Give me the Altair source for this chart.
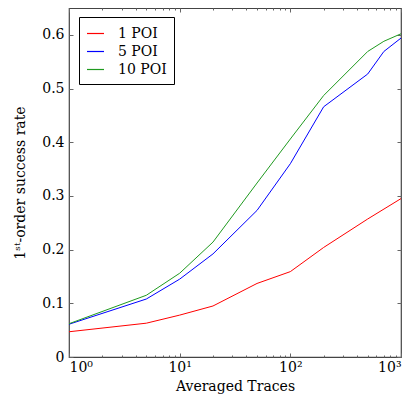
import altair as alt
import pandas as pd

series_names = ["\u20071 POI", "\u20075 POI", "10 POI"]
colors = ["#ff0000", "#0000ff", "#1f9a1f"]

x_red = [1, 5, 10, 20, 50, 100, 200, 500, 1000]
y_red = [0.047, 0.063, 0.078, 0.095, 0.137, 0.159, 0.204, 0.257, 0.295]

x_blue = [1, 5, 10, 20, 50, 100, 200, 500, 700, 1000]
y_blue = [0.061, 0.108, 0.145, 0.192, 0.273, 0.360, 0.466, 0.527, 0.569, 0.594]

x_green = [1, 5, 10, 20, 50, 100, 200, 500, 700, 1000]
y_green = [0.062, 0.115, 0.156, 0.214, 0.324, 0.406, 0.487, 0.569, 0.588, 0.602]

major_x = [1, 10, 100, 1000]
minor_x = [m * d for d in [1, 10, 100] for m in range(2, 10)]
major_y = [0, 0.1, 0.2, 0.3, 0.4, 0.5, 0.6]

rows = []
for name, xs, ys in zip(series_names, [x_red, x_blue, x_green], [y_red, y_blue, y_green]):
    for xv, yv in zip(xs, ys):
        rows.append({"series": name, "x": xv, "y": yv})
df = pd.DataFrame(rows)

FONT = "DejaVu Serif"
FS = 14
xscale = alt.Scale(type="log", domain=[1, 1000], nice=False)
yscale = alt.Scale(domain=[0, 0.65], nice=False, zero=False)

label_expr = ("datum.value == 1 ? '10\u2070' : datum.value == 10 ? '10\u00b9' : "
              "datum.value == 100 ? '10\u00b2' : '10\u00b3'")

def ax(orient, values, size, labels=False, title=None, **kw):
    return alt.Axis(orient=orient, values=values, tickSize=size, offset=-size,
                    domain=False, grid=False, labels=labels, tickColor="#666",
                    tickWidth=1, title=title, **kw)

base = alt.Chart(df)

lines = base.mark_line(strokeWidth=1).encode(
    x=alt.X("x:Q", scale=xscale,
            axis=ax("bottom", major_x, 4, labels=True, title="Averaged Traces",
                    labelExpr=label_expr, labelPadding=3, titlePadding=5,
                    labelFont=FONT, labelFontSize=FS, titleFont=FONT,
                    titleFontSize=FS, titleFontWeight="normal", labelColor="black",
                    titleColor="black")),
    y=alt.Y("y:Q", scale=yscale,
            axis=ax("left", major_y, 4, labels=True,
                    title="1\u02e2\u1d57-order success rate",
                    labelPadding=5, titlePadding=14, format="~g",
                    labelFont=FONT, labelFontSize=FS, titleFont=FONT,
                    titleFontSize=FS, titleFontWeight="normal", labelColor="black",
                    titleColor="black")),
    color=alt.Color("series:N", scale=alt.Scale(domain=series_names, range=colors),
                    legend=alt.Legend(orient="none", legendX=10, legendY=9,
                                      title=None, symbolType="stroke",
                                      symbolStrokeWidth=1.2, symbolSize=289,
                                      labelFont=FONT, labelFontSize=FS,
                                      labelColor="black",
                                      strokeColor="black", fillColor="white",
                                      padding=7, rowPadding=1, cornerRadius=0,
                                      labelOffset=13)),
)

def tick_layer(xaxis, yaxis):
    return base.mark_point(opacity=0).encode(
        x=alt.X("x:Q", scale=xscale, axis=xaxis),
        y=alt.Y("y:Q", scale=yscale, axis=yaxis),
    )

layers = [
    lines,
    tick_layer(ax("top", major_x, 4), ax("right", major_y, 4)),
    tick_layer(ax("bottom", minor_x, 2), None),
    tick_layer(ax("top", minor_x, 2), None),
]

chart = alt.layer(*layers).resolve_axis(x="independent", y="independent").properties(
    width=332, height=349,
    autosize=alt.AutoSizeParams(type="none"),
    padding={"left": 61, "top": 0, "right": 5, "bottom": 37},
).configure(font=FONT).configure_view(stroke="#444", strokeWidth=1.2)

chart.save("out.html", embed_options={"renderer": "svg", "actions": False})
